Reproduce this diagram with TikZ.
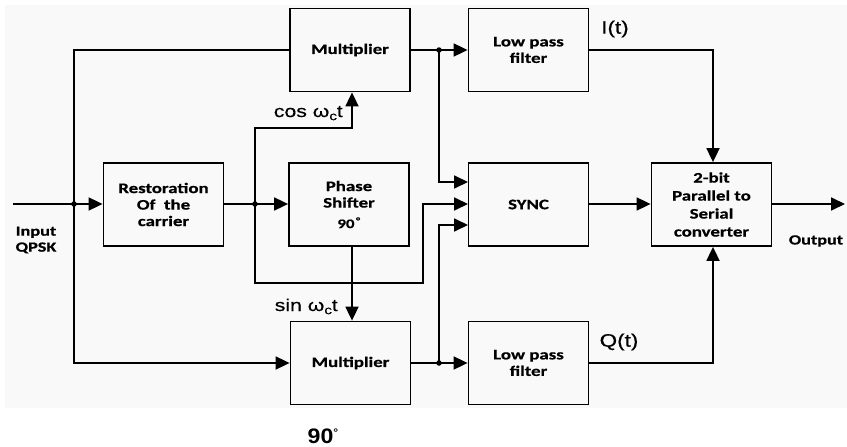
\documentclass[tikz,border=0pt]{standalone}
\usepackage{fontspec}
\usetikzlibrary{arrows.meta}
\newfontfamily\boxfont[FakeStretch=1.3,BoldFeatures={FakeBold=0.6}]{Carlito}
\newfontfamily\lblfont[FakeStretch=1.25,FakeBold=0.4]{Liberation Sans}
\newfontfamily\nnfont[FakeStretch=1.1]{Liberation Sans}
\definecolor{bgc}{RGB}{249,249,249}
\begin{document}
\begin{tikzpicture}[x=1pt,y=-1pt,
  blk/.style={draw, line width=1.8pt, minimum width=120pt, minimum height=83pt, inner sep=0pt, align=center, font=\boxfont\bfseries\fontsize{14.5}{16.5}\selectfont},
  line/.style={line width=1.8pt},
  arr/.style={line width=1.8pt, -{Triangle[length=14pt,width=13pt]}},
  jdot/.style={circle, fill, inner sep=0pt, minimum size=5.5pt},
  lbl/.style={inner sep=0pt, font=\lblfont\fontsize{17}{19}\selectfont},
  txt/.style={inner sep=0pt, align=center, font=\boxfont\bfseries\fontsize{14}{16}\selectfont}]
\useasboundingbox (0,0) rectangle (847,447);
\fill[bgc] (5,5) rectangle (847,408);
% blocks
\node[blk] (mul1) at (350,50) {Multiplier};
\node[blk] (rest) at (163.5,204.5) {Restoration\\Of\ \ the\\carrier};
\node[blk] (phase) at (349,204.5) {Phase\\Shifter\\[4pt]{\fontsize{13}{15}\selectfont 90\textsuperscript{\,°}}};
\node[blk] (mul2) at (350.5,363) {Multiplier};
\node[blk] (lpf1) at (528.5,50) {Low pass\\filter};
\node[blk] (sync) at (528.5,204.5) {SYNC};
\node[blk] (lpf2) at (528.5,363) {Low pass\\filter};
\node[blk, font=\boxfont\bfseries\fontsize{14.5}{18}\selectfont] (conv) at (711.5,204.5) {2-bit\\Parallel to\\Serial\\converter};
% coordinates
\coordinate (in) at (13,204);
\coordinate (j1) at (74,204);
\coordinate (j2) at (255,204);
\coordinate (j3) at (439,50);
\coordinate (j4) at (439,363);
\coordinate (cx) at (352,0);
\coordinate (ix) at (713,0);
\coordinate (out) at (845,204);
\coordinate (s1) at (468,182);
\coordinate (s2) at (468,204);
\coordinate (s3) at (468,225);
% connectors
\draw[arr] (in) -- (rest.west |- j1);
\draw[line] (j1) |- (mul1.west);
\draw[arr] (j1) |- (mul2.west);
\draw[arr] (rest.east |- j2) -- (phase.west |- j2);
\draw[arr] (j2) -- (255,128) -- (352,128) -- (cx |- mul1.south);
\draw[arr] (j2) -- (255,283) -- (423,283) -- (423,204) -- (s2);
\draw[arr] (cx |- phase.south) -- (cx |- mul2.north);
\draw[arr] (mul1.east) -- (lpf1.west);
\draw[arr] (mul2.east) -- (lpf2.west);
\draw[arr] (j3) |- (s1);
\draw[arr] (j4) |- (s3);
\draw[arr] (lpf1.east) -| (ix |- conv.north);
\draw[arr] (lpf2.east) -| (ix |- conv.south);
\draw[arr] (sync.east |- s2) -- (conv.west |- s2);
\draw[arr] (conv.east |- out) -- (out);
% junction dots
\foreach \p in {j1,j2,j3,j4} \node[jdot] at (\p) {};
% labels
\node[lbl, anchor=base east] (cosl) at (343,117) {cos ω\raisebox{-0.35ex}{\fontsize{12}{12}\selectfont c}t};
\node[lbl, anchor=base east] (sinl) at (338,311) {sin ω\raisebox{-0.35ex}{\fontsize{12}{12}\selectfont c}t};
\node[lbl, font=\lblfont\fontsize{18}{20}\selectfont] (il) at (615,29) {I(t)};
\node[lbl, font=\lblfont\fontsize{18}{20}\selectfont] (ql) at (619,342) {Q(t)};
\node[txt] (inl) at (36,240) {Input\\QPSK};
\node[txt] (outl) at (816,241) {Output};
\node[inner sep=0pt, font=\nnfont\bfseries\fontsize{21}{23}\selectfont] (nn) at (323,436) {90\raisebox{0.6ex}{\fontsize{11}{11}\selectfont °}};
\end{tikzpicture}
\end{document}
